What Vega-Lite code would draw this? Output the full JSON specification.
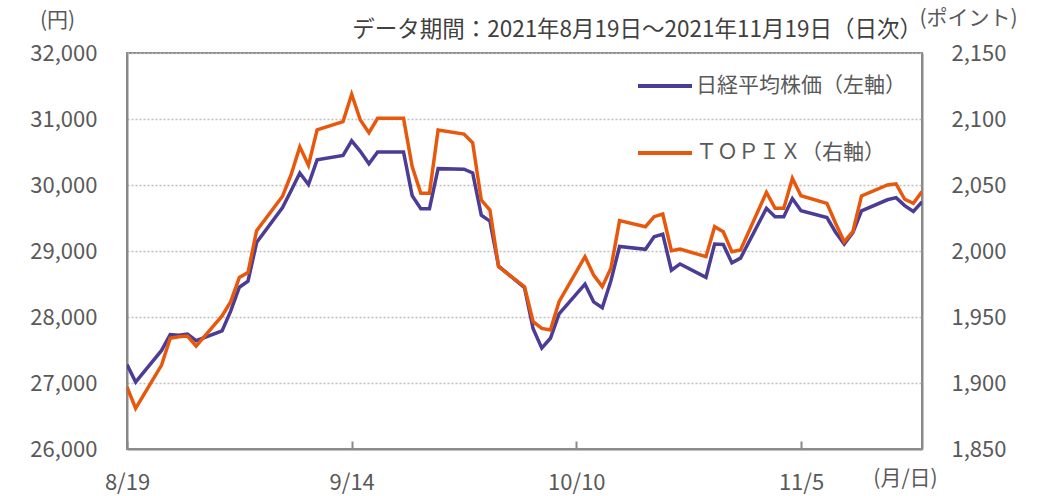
{
  "$schema": "https://vega.github.io/schema/vega-lite/v6.json",
  "width": 795,
  "height": 396,
  "autosize": {"type": "none"},
  "padding": {"left": 127, "top": 53, "right": 123, "bottom": 47},
  "background": "white",
  "config": {
    "font": "Noto Sans CJK JP",
    "view": {"stroke": "#898989", "strokeWidth": 2},
    "axis": {"labelColor": "#595959", "titleColor": "#595959", "domainColor": "#898989", "domainWidth": 2, "labelFont": "Noto Sans CJK JP", "titleFont": "Noto Sans CJK JP", "titleFontWeight": "normal"},
    "legend": {"labelFont": "Noto Sans CJK JP"}
  },
  "title": {
    "text": "データ期間：2021年8月19日～2021年11月19日（日次）",
    "anchor": "end",
    "frame": "group",
    "fontSize": 22.5,
    "fontWeight": "normal",
    "color": "#404040",
    "baseline": "alphabetic",
    "offset": 0,
    "dy": 52,
    "dx": 0
  },
  "data": {
    "values": [
      {"date": "2021-08-19", "nikkei": 27281, "topix": 1897.0},
      {"date": "2021-08-20", "nikkei": 27013, "topix": 1880.8},
      {"date": "2021-08-23", "nikkei": 27494, "topix": 1913.6},
      {"date": "2021-08-24", "nikkei": 27732, "topix": 1933.9},
      {"date": "2021-08-25", "nikkei": 27724, "topix": 1935.0},
      {"date": "2021-08-26", "nikkei": 27742, "topix": 1935.6},
      {"date": "2021-08-27", "nikkei": 27641, "topix": 1928.0},
      {"date": "2021-08-30", "nikkei": 27789, "topix": 1950.8},
      {"date": "2021-08-31", "nikkei": 28089, "topix": 1961.6},
      {"date": "2021-09-01", "nikkei": 28451, "topix": 1980.0},
      {"date": "2021-09-02", "nikkei": 28543, "topix": 1983.6},
      {"date": "2021-09-03", "nikkei": 29128, "topix": 2015.4},
      {"date": "2021-09-06", "nikkei": 29659, "topix": 2041.5},
      {"date": "2021-09-07", "nikkei": 29916, "topix": 2058.0},
      {"date": "2021-09-08", "nikkei": 30181, "topix": 2079.0},
      {"date": "2021-09-09", "nikkei": 30008, "topix": 2065.0},
      {"date": "2021-09-10", "nikkei": 30381, "topix": 2091.7},
      {"date": "2021-09-13", "nikkei": 30447, "topix": 2098.0},
      {"date": "2021-09-14", "nikkei": 30670, "topix": 2118.7},
      {"date": "2021-09-15", "nikkei": 30511, "topix": 2099.2},
      {"date": "2021-09-16", "nikkei": 30323, "topix": 2089.6},
      {"date": "2021-09-17", "nikkei": 30500, "topix": 2100.5},
      {"date": "2021-09-20", "nikkei": 30500, "topix": 2100.5},
      {"date": "2021-09-21", "nikkei": 29839, "topix": 2063.9},
      {"date": "2021-09-22", "nikkei": 29639, "topix": 2043.7},
      {"date": "2021-09-23", "nikkei": 29639, "topix": 2043.7},
      {"date": "2021-09-24", "nikkei": 30248, "topix": 2091.7},
      {"date": "2021-09-27", "nikkei": 30240, "topix": 2088.6},
      {"date": "2021-09-28", "nikkei": 30183, "topix": 2082.0},
      {"date": "2021-09-29", "nikkei": 29544, "topix": 2038.6},
      {"date": "2021-09-30", "nikkei": 29452, "topix": 2031.0},
      {"date": "2021-10-01", "nikkei": 28771, "topix": 1988.1},
      {"date": "2021-10-04", "nikkei": 28444, "topix": 1973.0},
      {"date": "2021-10-05", "nikkei": 27822, "topix": 1946.5},
      {"date": "2021-10-06", "nikkei": 27528, "topix": 1941.4},
      {"date": "2021-10-07", "nikkei": 27678, "topix": 1940.2},
      {"date": "2021-10-08", "nikkei": 28048, "topix": 1961.6},
      {"date": "2021-10-11", "nikkei": 28498, "topix": 1995.7},
      {"date": "2021-10-12", "nikkei": 28230, "topix": 1981.8},
      {"date": "2021-10-13", "nikkei": 28140, "topix": 1973.0},
      {"date": "2021-10-14", "nikkei": 28550, "topix": 1986.9},
      {"date": "2021-10-15", "nikkei": 29068, "topix": 2023.0},
      {"date": "2021-10-18", "nikkei": 29025, "topix": 2018.4},
      {"date": "2021-10-19", "nikkei": 29215, "topix": 2026.0},
      {"date": "2021-10-20", "nikkei": 29255, "topix": 2028.0},
      {"date": "2021-10-21", "nikkei": 28708, "topix": 2000.2},
      {"date": "2021-10-22", "nikkei": 28804, "topix": 2001.5},
      {"date": "2021-10-25", "nikkei": 28600, "topix": 1995.7},
      {"date": "2021-10-26", "nikkei": 29106, "topix": 2018.4},
      {"date": "2021-10-27", "nikkei": 29098, "topix": 2014.6},
      {"date": "2021-10-28", "nikkei": 28820, "topix": 1999.5},
      {"date": "2021-10-29", "nikkei": 28892, "topix": 2000.8},
      {"date": "2021-11-01", "nikkei": 29647, "topix": 2044.4},
      {"date": "2021-11-02", "nikkei": 29520, "topix": 2032.3},
      {"date": "2021-11-03", "nikkei": 29520, "topix": 2032.3},
      {"date": "2021-11-04", "nikkei": 29794, "topix": 2055.0},
      {"date": "2021-11-05", "nikkei": 29611, "topix": 2041.9},
      {"date": "2021-11-08", "nikkei": 29507, "topix": 2036.1},
      {"date": "2021-11-09", "nikkei": 29285, "topix": 2021.0},
      {"date": "2021-11-10", "nikkei": 29106, "topix": 2007.0},
      {"date": "2021-11-11", "nikkei": 29277, "topix": 2014.6},
      {"date": "2021-11-12", "nikkei": 29609, "topix": 2041.7},
      {"date": "2021-11-15", "nikkei": 29776, "topix": 2050.0},
      {"date": "2021-11-16", "nikkei": 29808, "topix": 2050.8},
      {"date": "2021-11-17", "nikkei": 29688, "topix": 2039.2},
      {"date": "2021-11-18", "nikkei": 29598, "topix": 2036.1},
      {"date": "2021-11-19", "nikkei": 29745, "topix": 2045.0}
    ],
    "format": {"parse": {"date": "utc:'%Y-%m-%d'"}}
  },
  "encoding": {
    "x": {
      "field": "date",
      "type": "temporal",
      "scale": {"type": "utc", "domain": [{"year": 2021, "month": 8, "date": 19, "utc": true}, {"year": 2021, "month": 11, "date": 19, "utc": true}], "nice": false},
      "axis": {
        "values": [{"year": 2021, "month": 8, "date": 19, "utc": true}, {"year": 2021, "month": 9, "date": 14, "utc": true}, {"year": 2021, "month": 10, "date": 10, "utc": true}, {"year": 2021, "month": 11, "date": 5, "utc": true}],
        "labelExpr": "utcFormat(datum.value, '%-m/%-d')",
        "grid": false,
        "ticks": true,
        "tickSize": -8,
        "tickColor": "#898989",
        "tickWidth": 2,
        "labelPadding": 41,
        "labelFontSize": 22,
        "labelBaseline": "middle",
        "labelFlush": false,
        "labelOverlap": false,
        "title": "(月/日)",
        "titleFontSize": 21,
        "titleX": 778,
        "titleY": 29,
        "titleAlign": "center",
        "titleBaseline": "middle"
      }
    }
  },
  "layer": [
    {
      "mark": {"type": "line", "strokeWidth": 3.5, "strokeJoin": "miter", "clip": true},
      "encoding": {
        "y": {
          "field": "nikkei",
          "type": "quantitative",
          "scale": {"domain": [26000, 32000], "nice": false, "zero": false},
          "axis": {
            "orient": "left",
            "values": [26000, 27000, 28000, 29000, 30000, 31000, 32000],
            "labelExpr": "format(datum.value, ',')",
            "grid": true,
            "gridColor": "#BFBFBF",
            "gridDash": [2, 2],
            "gridWidth": 1.5,
            "ticks": false,
            "labelPadding": 30,
            "labelFontSize": 22,
            "title": "(円)",
            "titleFontSize": 21,
            "titleAngle": 0,
            "titleX": -70,
            "titleY": -33,
            "titleAlign": "center",
            "titleBaseline": "middle"
          }
        },
        "color": {
          "datum": "日経平均株価（左軸）",
          "type": "nominal",
          "scale": {"domain": ["日経平均株価（左軸）", "ＴＯＰＩＸ（右軸）"], "range": ["#4B3C96", "#E8580C"]},
          "legend": {
            "title": null,
            "orient": "none",
            "legendX": 509,
            "legendY": 4,
            "padding": 0,
            "symbolType": "stroke",
            "symbolSize": 2916,
            "symbolStrokeWidth": 4,
            "labelFontSize": 21,
            "labelColor": "#595959",
            "labelOffset": 2,
            "rowPadding": 28,
            "labelLimit": 400
          }
        }
      }
    },
    {
      "mark": {"type": "line", "strokeWidth": 3.5, "strokeJoin": "miter", "clip": true},
      "encoding": {
        "y": {
          "field": "topix",
          "type": "quantitative",
          "scale": {"domain": [1850, 2150], "nice": false, "zero": false},
          "axis": {
            "orient": "right",
            "values": [1850, 1900, 1950, 2000, 2050, 2100, 2150],
            "labelExpr": "format(datum.value, ',')",
            "grid": false,
            "ticks": false,
            "labelPadding": 29,
            "labelFontSize": 22,
            "title": "(ポイント)",
            "titleFontSize": 21,
            "titleAngle": 0,
            "titleX": 46,
            "titleY": -35,
            "titleAlign": "center",
            "titleBaseline": "middle"
          }
        },
        "color": {"datum": "ＴＯＰＩＸ（右軸）", "type": "nominal"}
      }
    }
  ],
  "resolve": {"scale": {"y": "independent"}}
}
